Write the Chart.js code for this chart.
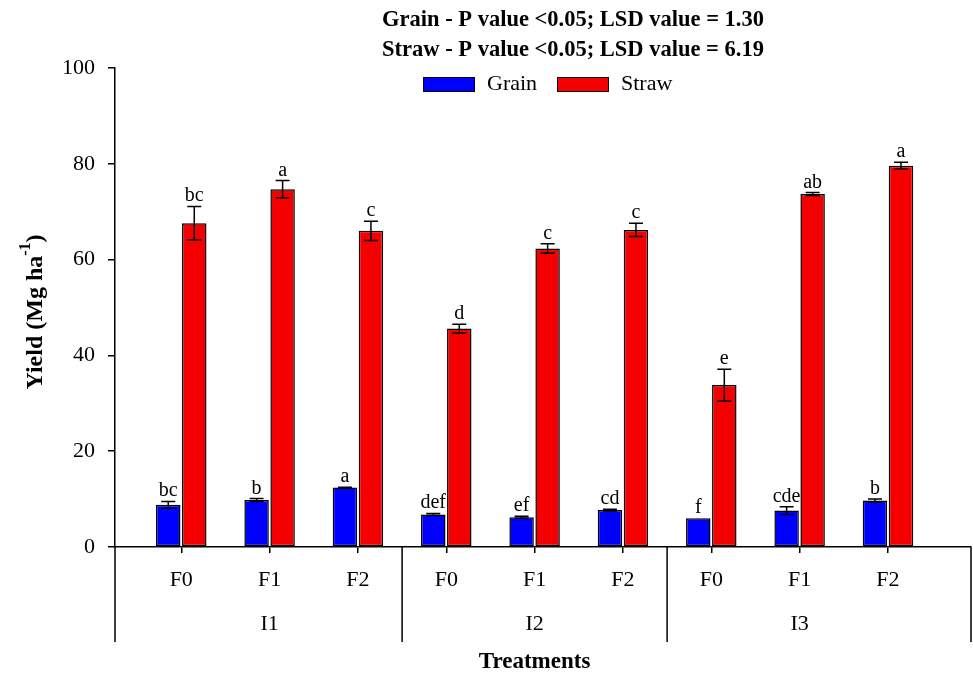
<!DOCTYPE html>
<html>
<head>
<meta charset="utf-8">
<script src="https://cdn.jsdelivr.net/npm/chart.js@4.4.0/dist/chart.umd.min.js"></script>
<style>
  html, body { margin: 0; padding: 0; background: #fff; }
  canvas { display: block; }
</style>
</head>
<body>
<canvas id="yieldChart" width="973" height="674"></canvas>
<script>
// chart values
const factorLabels = ['F0', 'F1', 'F2', 'F0', 'F1', 'F2', 'F0', 'F1', 'F2'];
const groupLabels = ['I1', 'I2', 'I3'];
const grain = [8.8, 9.8, 12.4, 6.8, 6.2, 7.7, 6.0, 7.6, 9.7];
const grainErr = [0.7, 0.3, 0.1, 0.2, 0.2, 0.2, 0.0, 0.8, 0.3];
const grainLetters = ['bc', 'b', 'a', 'def', 'ef', 'cd', 'f', 'cde', 'b'];
const straw = [67.6, 74.7, 66.0, 45.6, 62.3, 66.2, 33.8, 73.7, 79.6];
const strawErr = [3.5, 1.8, 2.0, 0.9, 1.0, 1.4, 3.3, 0.3, 0.7];
const strawLetters = ['bc', 'a', 'c', 'd', 'c', 'c', 'e', 'ab', 'a'];
const titleLines = [
  'Grain - P value <0.05; LSD value = 1.30',
  'Straw - P value <0.05; LSD value = 6.19',
];
const yTicks = [0, 20, 40, 60, 80, 100];

const SERIF = '"Liberation Serif", "Times New Roman", serif';
const BLUE = '#0000ff';
const RED = '#f40000';

const toPoints = arr => arr.map((v, i) => ({ x: i, y: v }));

// error bars + significance letters on top of each bar
const errorBarPlugin = {
  id: 'errorBars',
  afterDatasetsDraw(chart) {
    const { ctx, scales: { y } } = chart;
    const errs = [grainErr, strawErr];
    const letters = [grainLetters, strawLetters];
    ctx.save();
    chart.data.datasets.forEach((ds, d) => {
      const meta = chart.getDatasetMeta(d);
      meta.data.forEach((bar, i) => {
        const v = ds.data[i].y;
        const e = errs[d][i];
        const top = y.getPixelForValue(v + e);
        const bot = y.getPixelForValue(v - e);
        ctx.strokeStyle = '#000';
        ctx.lineWidth = 1.5;
        if (e > 0) {
          ctx.beginPath();
          ctx.moveTo(bar.x, top); ctx.lineTo(bar.x, bot);
          ctx.moveTo(bar.x - 7, top); ctx.lineTo(bar.x + 7, top);
          ctx.moveTo(bar.x - 7, bot); ctx.lineTo(bar.x + 7, bot);
          ctx.stroke();
        }
        ctx.fillStyle = '#000';
        ctx.font = '20px ' + SERIF;
        ctx.textAlign = 'center';
        ctx.textBaseline = 'alphabetic';
        ctx.fillText(letters[d][i], bar.x, top - 5);
      });
    });
    ctx.restore();
  },
};

// group separators, group labels, axis titles, heading and legend
const decorPlugin = {
  id: 'decor',
  afterDraw(chart) {
    const { ctx, chartArea, scales: { x } } = chart;
    const base = chartArea.bottom;
    const lineEnd = 642;
    ctx.save();
    ctx.strokeStyle = '#000';
    ctx.lineWidth = 1.5;
    ctx.beginPath();
    [x.left, x.getPixelForValue(2.5), x.getPixelForValue(5.5), x.right].forEach(px => {
      ctx.moveTo(px, base); ctx.lineTo(px, lineEnd);
    });
    ctx.stroke();

    ctx.fillStyle = '#000';
    ctx.textAlign = 'center';
    ctx.textBaseline = 'middle';
    ctx.font = '22px ' + SERIF;
    groupLabels.forEach((g, k) => {
      ctx.fillText(g, x.getPixelForValue(k * 3 + 1), 624);
    });

    ctx.font = 'bold 23px ' + SERIF;
    ctx.fillText('Treatments', x.getPixelForValue(4), 662);

    // y axis title with superscript
    ctx.save();
    ctx.translate(34, 312);
    ctx.rotate(-Math.PI / 2);
    const mainFont = 'bold 24px ' + SERIF;
    const supFont = 'bold 16px ' + SERIF;
    const p1 = 'Yield (Mg ha', p2 = '-1', p3 = ')';
    ctx.font = mainFont; const w1 = ctx.measureText(p1).width; const w3 = ctx.measureText(p3).width;
    ctx.font = supFont; const w2 = ctx.measureText(p2).width;
    let sx = -(w1 + w2 + w3) / 2;
    ctx.textAlign = 'left';
    ctx.textBaseline = 'alphabetic';
    ctx.font = mainFont; ctx.fillText(p1, sx, 8); sx += w1;
    ctx.font = supFont; ctx.fillText(p2, sx, -4); sx += w2;
    ctx.font = mainFont; ctx.fillText(p3, sx, 8);
    ctx.restore();

    // heading
    ctx.textAlign = 'center';
    ctx.textBaseline = 'middle';
    ctx.font = 'bold 22.5px ' + SERIF;
    titleLines.forEach((t, k) => ctx.fillText(t, 573, 20 + k * 30));

    // legend
    const items = [
      { label: chart.data.datasets[0].label, color: BLUE, box: 423, text: 487 },
      { label: chart.data.datasets[1].label, color: RED, box: 557, text: 621 },
    ];
    ctx.font = '22px ' + SERIF;
    ctx.textAlign = 'left';
    ctx.lineWidth = 1;
    items.forEach(it => {
      ctx.fillStyle = it.color;
      ctx.fillRect(it.box, 77, 51, 14);
      ctx.strokeRect(it.box + 0.5, 77.5, 51, 14);
      ctx.fillStyle = '#000';
      ctx.fillText(it.label, it.text, 84);
    });
    ctx.restore();
  },
};

new Chart(document.getElementById('yieldChart'), {
  type: 'bar',
  data: {
    datasets: [
      {
        label: 'Grain',
        data: toPoints(grain),
        backgroundColor: BLUE,
        borderColor: '#000',
        borderWidth: 1.5,
        borderSkipped: false,
        categoryPercentage: 0.589,
        barPercentage: 0.94,
      },
      {
        label: 'Straw',
        data: toPoints(straw),
        backgroundColor: RED,
        borderColor: '#000',
        borderWidth: 1.5,
        borderSkipped: false,
        categoryPercentage: 0.589,
        barPercentage: 0.94,
      },
    ],
  },
  options: {
    responsive: false,
    animation: false,
    layout: { padding: { top: 68, left: 0, right: 2, bottom: 0 } },
    plugins: {
      legend: { display: false },
      title: { display: false },
      tooltip: { enabled: false },
    },
    scales: {
      x: {
        type: 'linear',
        min: -0.75,
        max: 8.94,
        offset: false,
        afterBuildTicks: s => { s.ticks = factorLabels.map((_, i) => ({ value: i })); },
        afterFit: s => { s.height = 127; },
        grid: { drawOnChartArea: false, offset: false, tickLength: 6, color: '#000', lineWidth: 1.5 },
        border: { color: '#000', width: 1.5 },
        ticks: {
          autoSkip: false,
          maxRotation: 0,
          padding: 14,
          color: '#000',
          font: { family: SERIF, size: 22 },
          callback: v => factorLabels[v],
        },
      },
      y: {
        min: 0,
        max: 100,
        afterBuildTicks: s => { s.ticks = yTicks.map(v => ({ value: v })); },
        afterFit: s => { s.width = 115; },
        grid: { drawOnChartArea: false, tickLength: 7, color: '#000', lineWidth: 1.5 },
        border: { color: '#000', width: 1.5 },
        ticks: {
          padding: 13,
          color: '#000',
          font: { family: SERIF, size: 22 },
        },
      },
    },
  },
  plugins: [errorBarPlugin, decorPlugin],
});
</script>
</body>
</html>
